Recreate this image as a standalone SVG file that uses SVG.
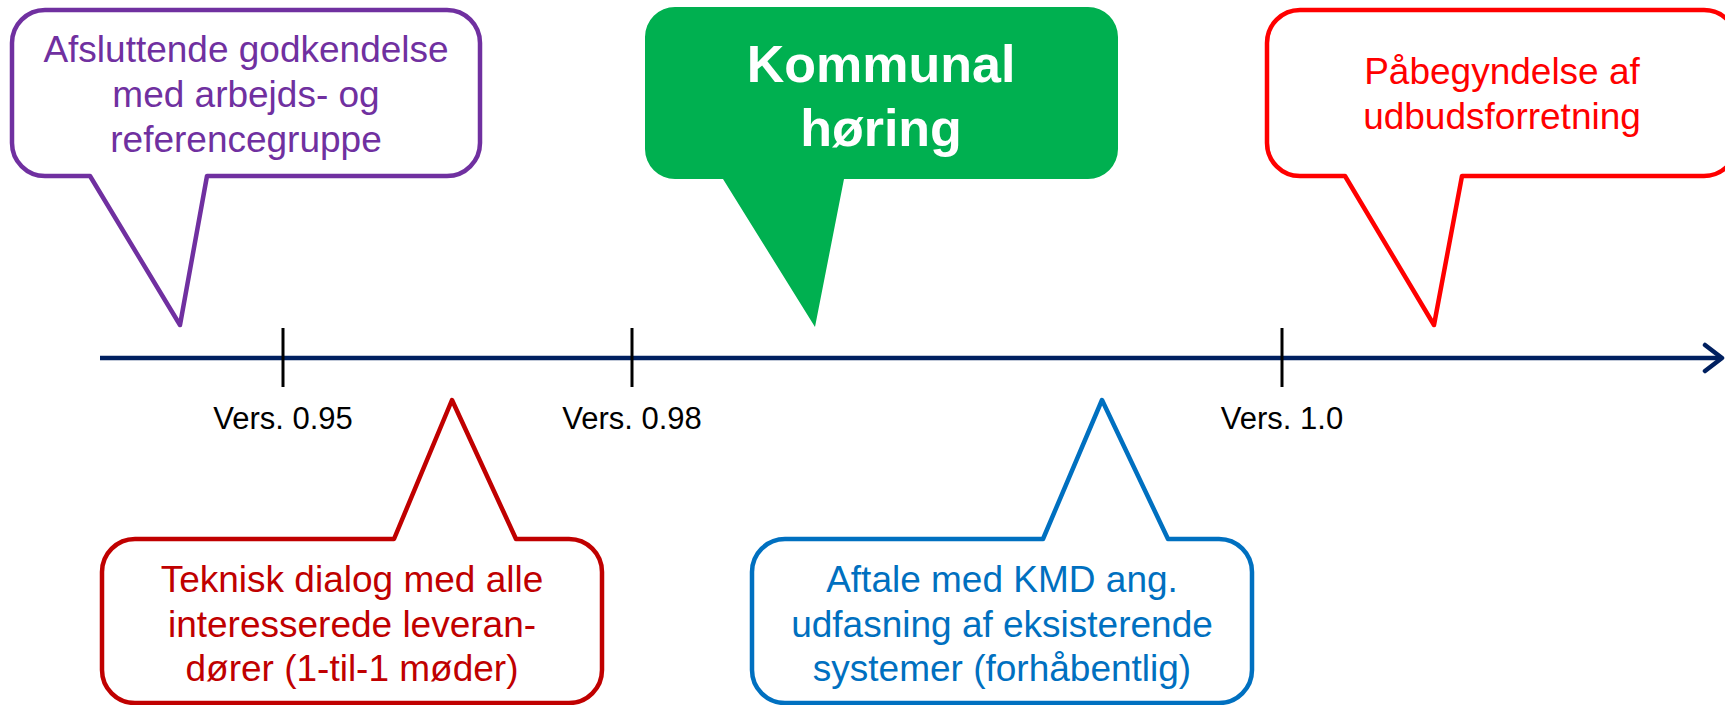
<svg xmlns="http://www.w3.org/2000/svg" width="1725" height="705" viewBox="0 0 1725 705">
  <style>
    .call { fill: #FFFFFF; stroke-width: 4.5; stroke-linejoin: round; }
    .t { font-family: "Liberation Sans", Arial, sans-serif; font-size: 37px; text-anchor: middle; }
    .ver { font-family: "Liberation Sans", Arial, sans-serif; font-size: 31px; text-anchor: middle; fill: #000000; }
    .tick { stroke: #000000; stroke-width: 3; }
  </style>
  <rect width="1725" height="705" fill="#FFFFFF"/>
  <g id="connectors">
    <line x1="100" y1="358" x2="1721" y2="358" stroke="#002060" stroke-width="4.5"/>
    <polyline points="1705,345 1722,358 1705,371" fill="none" stroke="#002060" stroke-width="4.5" stroke-linecap="round" stroke-linejoin="round"/>
  </g>
  <g id="tick-095">
    <line class="tick" x1="283" y1="328" x2="283" y2="387"/>
    <text class="ver" x="283" y="429">Vers. 0.95</text>
  </g>
  <g id="tick-098">
    <line class="tick" x1="632" y1="328" x2="632" y2="387"/>
    <text class="ver" x="632" y="429">Vers. 0.98</text>
  </g>
  <g id="tick-10">
    <line class="tick" x1="1282" y1="328" x2="1282" y2="387"/>
    <text class="ver" x="1282" y="429">Vers. 1.0</text>
  </g>
  <g id="godkendelse">
    <path class="call" stroke="#7030A0" d="M45,10 H447 A33 33 0 0 1 480,43 V143 A33 33 0 0 1 447,176 H207 L180,325 L90,176 H45 A33 33 0 0 1 12,143 V43 A33 33 0 0 1 45,10 Z"/>
    <text class="t" fill="#7030A0" x="246" y="62">Afsluttende godkendelse</text>
    <text class="t" fill="#7030A0" x="246" y="107">med arbejds- og</text>
    <text class="t" fill="#7030A0" x="246" y="152">referencegruppe</text>
  </g>
  <g id="kommunal-horing">
    <path fill="#00B050" d="M675,7 H1088 A30 30 0 0 1 1118,37 V149 A30 30 0 0 1 1088,179 H844 L815,327 L723,179 H675 A30 30 0 0 1 645,149 V37 A30 30 0 0 1 675,7 Z"/>
    <text x="881" y="82" font-family="Liberation Sans, Arial, sans-serif" font-size="52" font-weight="bold" fill="#FFFFFF" text-anchor="middle">Kommunal</text>
    <text x="881" y="146" font-family="Liberation Sans, Arial, sans-serif" font-size="52" font-weight="bold" fill="#FFFFFF" text-anchor="middle">høring</text>
  </g>
  <g id="udbud">
    <path class="call" stroke="#FF0000" d="M1300,10 H1704 A33 33 0 0 1 1737,43 V143 A33 33 0 0 1 1704,176 H1462 L1434,325 L1345,176 H1300 A33 33 0 0 1 1267,143 V43 A33 33 0 0 1 1300,10 Z"/>
    <text class="t" fill="#FF0000" x="1502" y="84">Påbegyndelse af</text>
    <text class="t" fill="#FF0000" x="1502" y="129">udbudsforretning</text>
  </g>
  <g id="teknisk-dialog">
    <path class="call" stroke="#C00000" d="M135,539 H394 L452,400 L516,539 H569 A33 33 0 0 1 602,572 V670 A33 33 0 0 1 569,703 H135 A33 33 0 0 1 102,670 V572 A33 33 0 0 1 135,539 Z"/>
    <text class="t" fill="#C00000" x="352" y="592">Teknisk dialog med alle</text>
    <text class="t" fill="#C00000" x="352" y="637">interesserede leveran-</text>
    <text class="t" fill="#C00000" x="352" y="681">dører (1-til-1 møder)</text>
  </g>
  <g id="aftale-kmd">
    <path class="call" stroke="#0070C0" d="M785,539 H1043 L1102,400 L1168,539 H1219 A33 33 0 0 1 1252,572 V670 A33 33 0 0 1 1219,703 H785 A33 33 0 0 1 752,670 V572 A33 33 0 0 1 785,539 Z"/>
    <text class="t" fill="#0070C0" x="1002" y="592">Aftale med KMD ang.</text>
    <text class="t" fill="#0070C0" x="1002" y="637">udfasning af eksisterende</text>
    <text class="t" fill="#0070C0" x="1002" y="681">systemer (forhåbentlig)</text>
  </g>
</svg>
